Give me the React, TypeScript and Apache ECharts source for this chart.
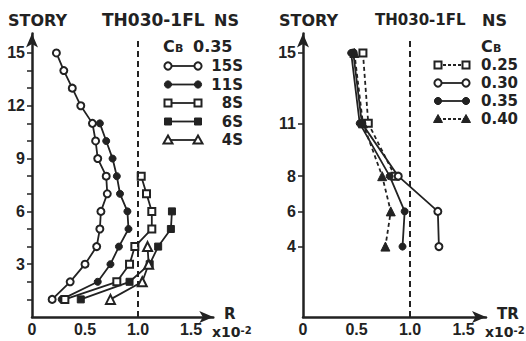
import React, { useEffect, useRef } from 'react';
import * as echarts from 'echarts';

// ---- Left panel: story drift R (x10^-2), Cb = 0.35 ----
const stories15 = [15, 14, 13, 12, 11, 10, 9, 8, 7, 6, 5, 4, 3, 2, 1];
const r15S = [0.23, 0.3, 0.38, 0.46, 0.57, 0.6, 0.62, 0.7, 0.71, 0.65, 0.64, 0.61, 0.5, 0.36, 0.19];
const stories11 = [11, 10, 9, 8, 7, 6, 5, 4, 3, 2, 1];
const r11S = [0.64, 0.7, 0.76, 0.8, 0.83, 0.9, 0.91, 0.82, 0.74, 0.62, 0.28];
const stories8 = [8, 7, 6, 5, 4, 3, 2, 1];
const r8S = [1.03, 1.08, 1.13, 1.13, 0.97, 0.92, 0.8, 0.31];
const stories6 = [6, 5, 4, 3, 2, 1];
const r6S = [1.32, 1.31, 1.19, 1.11, 0.92, 0.46];
const stories4 = [4, 3, 2, 1];
const r4S = [1.09, 1.1, 1.04, 0.74];

// ---- Right panel: top drift TR (x10^-2) vs building height ----
const buildingStories = [15, 11, 8, 6, 4];
const tr025 = [0.56, 0.61, 0.86];
const tr030 = [0.47, 0.55, 0.89, 1.26, 1.27];
const tr035 = [0.45, 0.53, 0.81, 0.95, 0.93];
const tr040 = [0.48, 0.56, 0.74, 0.82, 0.77];

const leftYLabels = [3, 6, 9, 12, 15];
const leftYTicks = [1, 2, 3, 4, 5, 6, 7, 8, 9, 10, 11, 12, 13, 14, 15];
const rightYLabels = [4, 6, 8, 11, 15];
const xLabels = [0, 0.5, 1.0, 1.5];

const leftLegend = ['15S', '11S', '8S', '6S', '4S'];
const rightLegend = ['0.25', '0.30', '0.35', '0.40'];

const INK = '#222';
const TITLE_FONT = 'bold 16px "DejaVu Sans"';
const LEGEND_FONT = 'bold 15px "DejaVu Sans"';

const pairs = (xs: number[], ys: number[]) => xs.map((v, i) => [v, ys[i]]);

function lineSeries(grid: number, data: number[][], symbol: string, filled: boolean, dashed: boolean, extra: any = {}) {
  return {
    type: 'line',
    xAxisIndex: grid,
    yAxisIndex: grid,
    data,
    symbol,
    symbolSize: symbol === 'triangle' ? 9 : 7,
    showSymbol: true,
    itemStyle: { color: filled ? INK : '#fff', borderColor: INK, borderWidth: filled ? 1 : 2 },
    lineStyle: { color: INK, width: 1.8, type: dashed ? [4, 3] : 'solid' },
    emphasis: { disabled: true },
    z: 3,
    ...extra,
  };
}

function dashedRef(top: number) {
  return {
    silent: true,
    symbol: 'none',
    label: { show: false },
    lineStyle: { type: [6, 4], color: INK, width: 2 },
    data: [[{ coord: [1, 0] }, { coord: [1, top] }]],
  };
}

function xAxis(grid: number) {
  return {
    type: 'value',
    gridIndex: grid,
    min: 0,
    max: 1.71,
    axisLine: { show: true, onZero: false, lineStyle: { color: INK, width: 2.5 }, symbol: ['none', 'arrow'], symbolSize: [9, 14] },
    axisTick: { show: false },
    splitLine: { show: false },
    axisLabel: {
      customValues: xLabels,
      formatter: (v: number) => (v === 0 ? '0' : v.toFixed(1)),
      fontFamily: 'Liberation Sans',
      fontWeight: 'bold',
      fontSize: 16,
      color: INK,
      margin: 4,
    },
  };
}

function yAxis(grid: number, labels: number[], ticks: number[]) {
  return {
    type: 'value',
    gridIndex: grid,
    min: 0,
    max: 16.1,
    axisLine: { show: true, onZero: false, lineStyle: { color: INK, width: 2.5 }, symbol: ['none', 'arrow'], symbolSize: [9, 14] },
    axisTick: { show: true, customValues: ticks, length: 5, lineStyle: { color: INK, width: 1.5 } },
    splitLine: { show: false },
    axisLabel: {
      customValues: labels,
      fontFamily: 'Liberation Sans',
      fontWeight: 'bold',
      fontSize: 16,
      color: INK,
      margin: 7,
    },
  };
}

function txt(x: number, y: number, text: string, font = TITLE_FONT, align = 'left', lineHeight = 14, rich: any = undefined) {
  const style: any = { text, font, fill: INK, lineHeight, textAlign: align, textVerticalAlign: 'middle', align, verticalAlign: 'middle' };
  if (rich) style.rich = rich;
  return { type: 'text', x, y, z: 10, style };
}

const supRich = { s: { font: 'bold 10px "DejaVu Sans"', fill: INK, verticalAlign: 'top', lineHeight: 14 } };

function legendMark(kind: string, cx: number, cy: number, filled: boolean) {
  const style = { fill: filled ? INK : '#fff', stroke: INK, lineWidth: filled ? 1 : 2 };
  if (kind === 'circle') return { type: 'circle', z: 11, shape: { cx, cy, r: 3.6 }, style };
  if (kind === 'rect') return { type: 'rect', z: 11, shape: { x: cx - 3.5, y: cy - 3.5, width: 7, height: 7 }, style };
  return { type: 'polygon', z: 11, shape: { points: [[cx, cy - 4.5], [cx + 4.5, cy + 3.5], [cx - 4.5, cy + 3.5]] }, style };
}

function legendRow(x1: number, x2: number, y: number, kind: string, filled: boolean, dashed: boolean) {
  return [
    { type: 'line', z: 10, shape: { x1, y1: y, x2, y2: y }, style: { stroke: INK, lineWidth: 1.8, lineDash: dashed ? [3, 2] : null } },
    legendMark(kind, x1, y, filled),
    legendMark(kind, x2, y, filled),
  ];
}

export default function App() {
  const ref = useRef<HTMLDivElement>(null);
  useEffect(() => {
    if (!ref.current) return;
    const chart = echarts.init(ref.current, null, { renderer: 'svg' });

    const leftKinds = [
      ['circle', false],
      ['circle', true],
      ['rect', false],
      ['rect', true],
      ['triangle', false],
    ] as [string, boolean][];
    const rightKinds = [
      ['rect', false, true],
      ['circle', false, false],
      ['circle', true, false],
      ['triangle', true, true],
    ] as [string, boolean, boolean][];
    const leftRowsY = [66, 84.5, 103, 121.5, 140];
    const rightRowsY = [65, 83, 101, 119];

    const graphic: any[] = [
      txt(8, 20, 'STORY'),
      txt(102, 20, 'TH030-1FL', 'bold 17px "DejaVu Sans"'),
      txt(214, 20, 'NS'),
      txt(279, 20, 'STORY'),
      txt(375, 20, 'TH030-1FL', 'bold 15px "DejaVu Sans"'),
      txt(482, 20, 'NS'),
      // left legend header
      txt(163, 46, 'C'),
      txt(175, 48, 'B', 'bold 11px "DejaVu Sans"', 'left', 10),
      txt(193, 46, '0.35'),
      // right legend header
      txt(481, 46, 'C'),
      txt(493, 48, 'B', 'bold 11px "DejaVu Sans"', 'left', 10),
      // axis names
      txt(224, 314, 'R', 'bold 15px "DejaVu Sans"', 'left', 12),
      txt(212, 332, 'x10{s|-2}', 'bold 14px "DejaVu Sans"', 'left', 14, supRich),
      txt(497, 314, 'TR', 'bold 15px "DejaVu Sans"', 'left', 12),
      txt(485, 332, 'x10{s|-2}', 'bold 14px "DejaVu Sans"', 'left', 14, supRich),
    ];
    leftLegend.forEach((lab, i) => {
      graphic.push(...legendRow(168, 198, leftRowsY[i], leftKinds[i][0], leftKinds[i][1], false));
      graphic.push(txt(243, leftRowsY[i], lab, LEGEND_FONT, 'right'));
    });
    rightLegend.forEach((lab, i) => {
      graphic.push(...legendRow(438, 466, rightRowsY[i], rightKinds[i][0], rightKinds[i][1], rightKinds[i][2]));
      graphic.push(txt(481, rightRowsY[i], lab, LEGEND_FONT));
    });

    chart.setOption({
      animation: false,
      backgroundColor: '#fff',
      grid: [
        { left: 32, top: 33.6, width: 181.3, height: 283.4, containLabel: false },
        { left: 303, top: 33.6, width: 183, height: 283.4, containLabel: false },
      ],
      xAxis: [xAxis(0), xAxis(1)],
      yAxis: [yAxis(0, leftYLabels, leftYTicks), yAxis(1, rightYLabels, rightYLabels)],
      series: [
        lineSeries(0, pairs(r15S, stories15), 'circle', false, false, { markLine: dashedRef(15.9) }),
        lineSeries(0, pairs(r11S, stories11), 'circle', true, false),
        lineSeries(0, pairs(r8S, stories8), 'rect', false, false),
        lineSeries(0, pairs(r6S, stories6), 'rect', true, false),
        lineSeries(0, pairs(r4S, stories4), 'triangle', false, false),
        lineSeries(1, pairs(tr025, buildingStories.slice(0, tr025.length)), 'rect', false, true, { markLine: dashedRef(15.7) }),
        lineSeries(1, pairs(tr030, buildingStories), 'circle', false, false),
        lineSeries(1, pairs(tr035, buildingStories), 'circle', true, false),
        lineSeries(1, pairs(tr040, buildingStories), 'triangle', true, true),
      ],
      graphic,
    });
    return () => chart.dispose();
  }, []);
  return (
    <div
      ref={ref}
      style={{ position: 'fixed', left: 0, top: 0, width: 526, height: 341, background: '#fff' }}
    />
  );
}
